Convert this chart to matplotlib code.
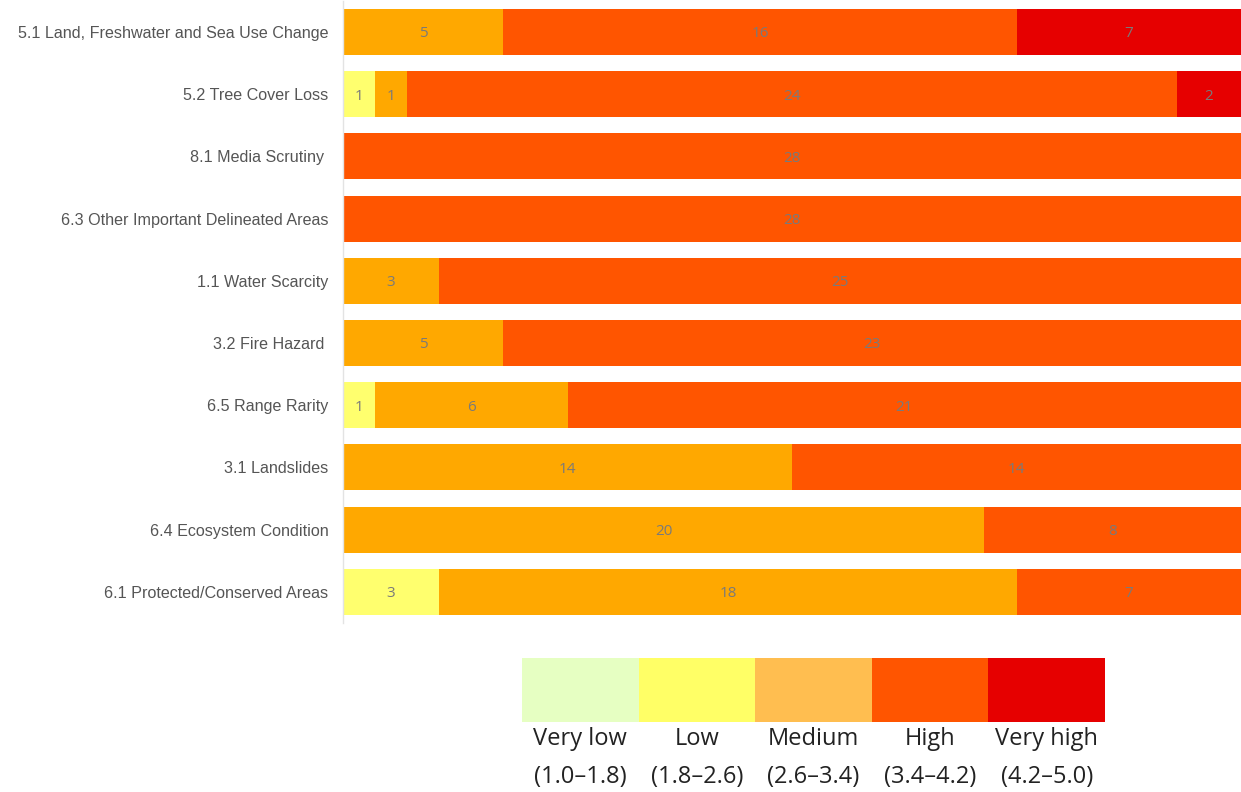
import matplotlib.pyplot as plt
from matplotlib.patches import Rectangle

categories = [
    "5.1 Land, Freshwater and Sea Use Change",
    "5.2 Tree Cover Loss",
    "8.1 Media Scrutiny ",
    "6.3 Other Important Delineated Areas",
    "1.1 Water Scarcity",
    "3.2 Fire Hazard ",
    "6.5 Range Rarity",
    "3.1 Landslides",
    "6.4 Ecosystem Condition",
    "6.1 Protected/Conserved Areas",
]
very_low = [0, 0, 0, 0, 0, 0, 0, 0, 0, 0]
low = [0, 1, 0, 0, 0, 0, 1, 0, 0, 3]
medium = [5, 1, 0, 0, 3, 5, 6, 14, 20, 18]
high = [16, 24, 28, 28, 25, 23, 21, 14, 8, 7]
very_high = [7, 2, 0, 0, 0, 0, 0, 0, 0, 0]

series = [very_low, low, medium, high, very_high]
bar_colors = ["#E6FFC2", "#FFFF6E", "#FFA800", "#FF5500", "#E60000"]

legend_colors = ["#E6FFC2", "#FFFF66", "#FFBE50", "#FF5500", "#E60000"]
legend_names = ["Very low", "Low", "Medium", "High", "Very high"]
legend_ranges = ["(1.0\u20131.8)", "(1.8\u20132.6)", "(2.6\u20133.4)", "(3.4\u20134.2)", "(4.2\u20135.0)"]

fig = plt.figure(figsize=(12.41, 7.92), dpi=100)
ax = fig.add_axes([0.2764, 0.2134, 0.7236, 0.7856])

ypos = list(range(len(categories)))
left = [0] * len(categories)
for vals, col in zip(series, bar_colors):
    ax.barh(ypos, vals, left=left, height=0.74, color=col, edgecolor="none")
    for y, v, l in zip(ypos, vals, left):
        if v > 0:
            ax.text(l + v / 2, y, str(v), ha="center", va="center_baseline",
                    fontsize=11, color="#7a7a7a", family="Open Sans")
    left = [a + b for a, b in zip(left, vals)]

ax.set_xlim(0, 28)
ax.set_ylim(len(categories) - 0.5, -0.5)
ax.set_yticks(ypos)
ax.set_yticklabels(categories, fontsize=11.6, color="#555555", family="Liberation Sans")
ax.tick_params(axis="y", length=0, pad=10.5)
ax.set_xticks([])
for s in ["top", "right", "bottom"]:
    ax.spines[s].set_visible(False)
ax.spines["left"].set_color("#e3e3e3")
ax.spines["left"].set_linewidth(1)

# colour scale key
lax = fig.add_axes([0.4206, 0.0884, 0.4698, 0.0808])
n = len(legend_colors)
for i, col in enumerate(legend_colors):
    lax.add_patch(Rectangle((i, 0), 1, 1, facecolor=col, edgecolor="none"))
lax.set_xlim(0, n)
lax.set_ylim(0, 1)
lax.axis("off")
for i, (name, rng) in enumerate(zip(legend_names, legend_ranges)):
    xc = 0.4206 + 0.4698 * (i + 0.5) / n
    fig.text(xc, 0.0675, name, ha="center", va="center", fontsize=17,
             color="#222222", family="Open Sans")
    fig.text(xc, 0.0185, rng, ha="center", va="center", fontsize=17,
             color="#222222", family="Open Sans")

fig.savefig("out.png", dpi=100)
